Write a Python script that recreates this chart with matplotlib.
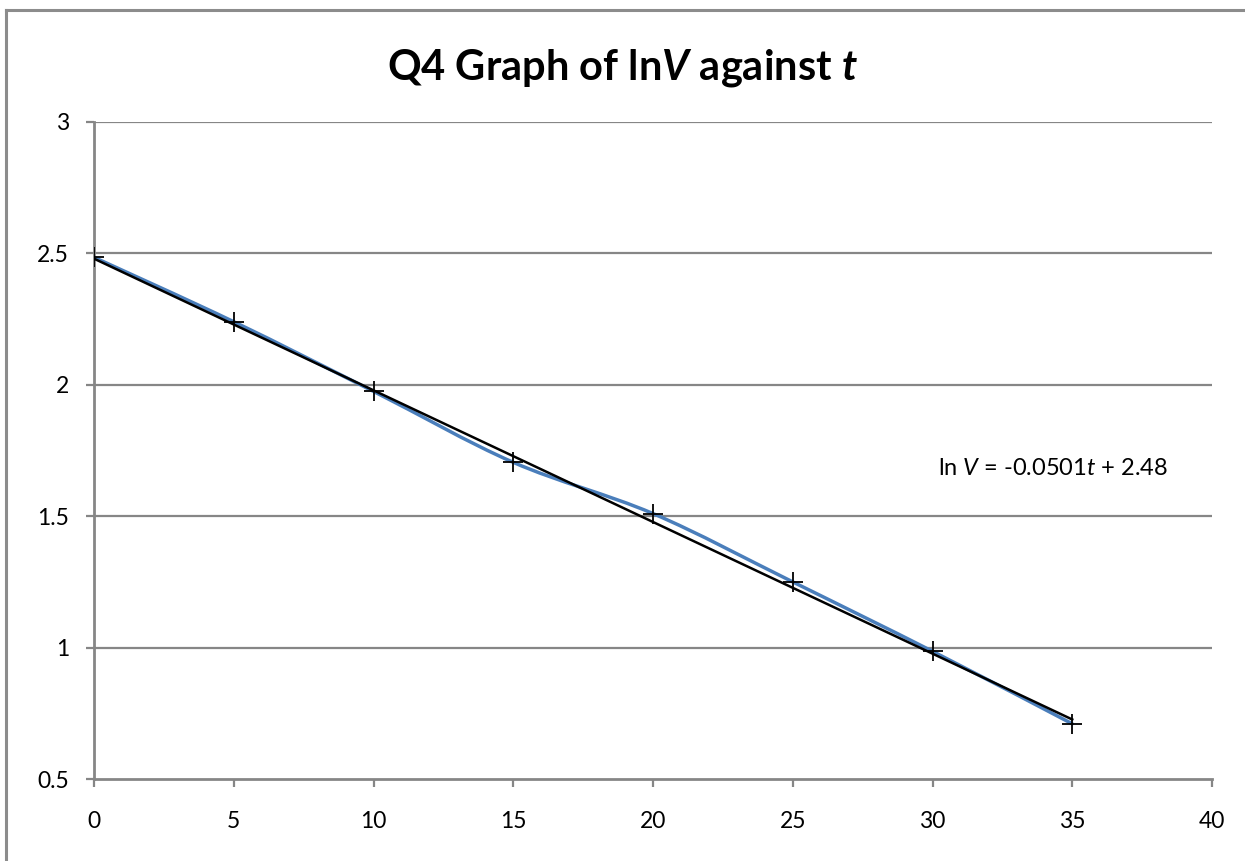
import matplotlib as mpl
import matplotlib.pyplot as plt
from matplotlib.path import Path
from matplotlib.patches import PathPatch
from matplotlib.lines import Line2D
import numpy as np

# data
t = [0, 5, 10, 15, 20, 25, 30, 35]
lnV = [2.485, 2.24, 1.975, 1.705, 1.51, 1.25, 0.986, 0.71]

# trendline from the label
slope = -0.0501
intercept = 2.48

x_ticks = [0, 5, 10, 15, 20, 25, 30, 35, 40]
y_ticks = [0.5, 1, 1.5, 2, 2.5, 3]

plt.rcParams['font.family'] = ['Lato', 'DejaVu Sans']
plt.rcParams['mathtext.fontset'] = 'custom'
plt.rcParams['mathtext.rm'] = 'Lato'
plt.rcParams['mathtext.it'] = 'Lato:italic'
plt.rcParams['mathtext.bf'] = 'Lato:bold'
plt.rcParams['mathtext.bfit'] = 'Lato:italic:bold'

grey = '#868686'
blue = '#4a7ebb'


def smooth_path(xs, ys):
    # excel-style smoothed line: cubic bezier through the points
    pts = np.column_stack([xs, ys]).astype(float)
    n = len(pts)
    verts = [pts[0]]
    codes = [Path.MOVETO]
    for i in range(n - 1):
        p0 = pts[i - 1] if i > 0 else pts[i]
        p1 = pts[i]
        p2 = pts[i + 1]
        p3 = pts[i + 2] if i + 2 < n else pts[i + 1]
        c1 = p1 + (p2 - p0) / 6
        c2 = p2 - (p3 - p1) / 6
        verts += [c1, c2, p2]
        codes += [Path.CURVE4] * 3
    return Path(verts, codes)


fig = plt.figure(figsize=(12.45, 8.61), dpi=100)
ax = fig.add_axes([94 / 1245, 82 / 861, 1118 / 1245, 657 / 861])

# outer chart border (left and top visible)
fig.add_artist(Line2D([6 / 1245, 6 / 1245], [0, 1 - 10 / 861], transform=fig.transFigure,
                      color='#8c8c8c', lw=2.2))
fig.add_artist(Line2D([6 / 1245, 1], [1 - 10 / 861, 1 - 10 / 861], transform=fig.transFigure,
                      color='#8c8c8c', lw=2.2))

ax.set_xlim(0, 40)
ax.set_ylim(0.5, 3)
ax.set_xticks(x_ticks)
ax.set_yticks(y_ticks)
ax.set_xticklabels([str(v) for v in x_ticks])
ax.set_yticklabels(['0.5', '1', '1.5', '2', '2.5', '3'])

for y in y_ticks[1:]:
    ax.axhline(y, color=grey, lw=1.6, zorder=1)

for s in ['top', 'right']:
    ax.spines[s].set_visible(False)
for s in ['left', 'bottom']:
    ax.spines[s].set_color(grey)
    ax.spines[s].set_linewidth(2)
ax.tick_params(axis='both', direction='out', length=6, width=1.6, color=grey,
               labelsize=16.5, labelcolor='black')
ax.tick_params(axis='x', pad=17)
ax.tick_params(axis='y', pad=12)

# smoothed data line
ax.add_patch(PathPatch(smooth_path(t, lnV), facecolor='none', edgecolor=blue,
                       lw=2.5, zorder=3, capstyle='round'))

# linear trendline
tt = np.array([t[0], t[-1]])
ax.plot(tt, slope * tt + intercept, color='black', lw=1.8, zorder=4)

# markers
ax.plot(t, lnV, linestyle='none', marker='+', markersize=15, markeredgewidth=1.3,
        color='black', zorder=5)

ax.text(30.2, 1.68, r'ln $\mathit{V}$ = -0.0501$\mathit{t}$ + 2.48', fontsize=17,
        ha='left', va='center')

fig.text(0.5, 1 - 68 / 861, r'Q4 Graph of ln$\mathbfit{V}$ against $\mathbfit{t}$',
         fontsize=30, fontweight='bold', ha='center', va='center')

fig.savefig('out.png', dpi=100)
